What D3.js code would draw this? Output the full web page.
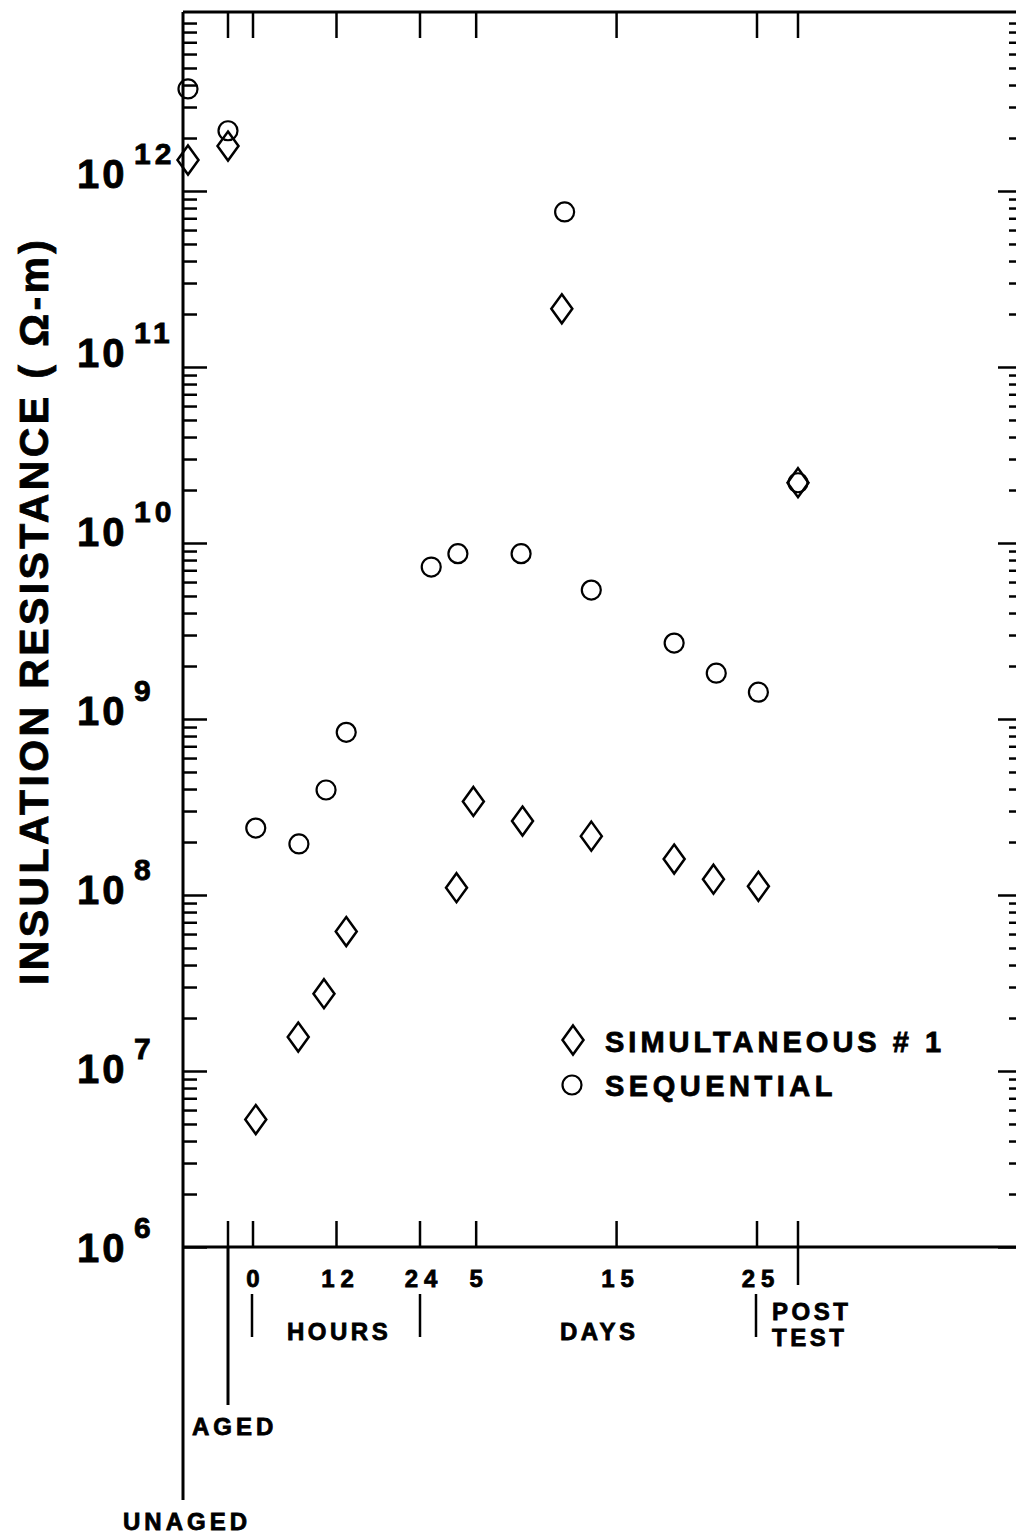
<!DOCTYPE html>
<html>
<head>
<meta charset="utf-8">
<script src="https://cdn.jsdelivr.net/npm/d3@7"></script>
<style>
  body { margin: 0; background: #fff; }
  text { font-family: "Liberation Sans", Arial, sans-serif; font-weight: bold; fill: #000;
         stroke: #000; stroke-width: 0.8px; }
</style>
</head>
<body>
<div id="chart"></div>
<script>
// stages outside the timed test
const stages = ['UNAGED', 'AGED', 'POST TEST'];
const seqStageValues = [3.8e12, 2.2e12, 2.2e10];
const simStageValues = [1.5e12, 1.8e12, 2.2e10];

// first day, in hours
const hourTicks = [0, 12, 24];
const seqHours = [0.4, 6.6, 10.5, 13.4];
const seqHourValues = [2.4e8, 1.95e8, 3.95e8, 8.4e8];
const simHours = [0.4, 6.5, 10.2, 13.4];
const simHourValues = [5.3e6, 1.56e7, 2.75e7, 6.2e7];

// rest of the test, in days
const dayTicks = [5, 15, 25];
const seqDays = [1.8, 3.7, 8.2, 11.3, 13.2, 19.1, 22.1, 25.1];
const seqDayValues = [7.3e9, 8.7e9, 8.7e9, 7.6e11, 5.4e9, 2.7e9, 1.82e9, 1.42e9];
const simDays = [3.6, 4.8, 8.3, 11.1, 13.2, 19.1, 21.9, 25.1];
const simDayValues = [1.1e8, 3.4e8, 2.63e8, 2.14e11, 2.16e8, 1.6e8, 1.23e8, 1.12e8];

const decades = [6, 7, 8, 9, 10, 11, 12];

const width = 1016, height = 1534;
const plotLeft = 183, plotRight = 1018, plotBottom = 1247, plotTop = 12;

const svg = d3.select('#chart').append('svg')
  .attr('width', width)
  .attr('height', height);
svg.append('rect').attr('width', width).attr('height', height).attr('fill', '#fff');

const yScale = d3.scaleLog().domain([1e6, Math.pow(10, 13.017)]).range([plotBottom, plotTop]);
const hourScale = d3.scaleLinear().domain([0, 24]).range([253, 420]);
const dayScale = d3.scaleLinear().domain([1, 25]).range([420, 757]);
const stageScale = d3.scaleOrdinal().domain(stages).range([188, 228, 798]);

const majorVals = decades.map(d => Math.pow(10, d));
const minorVals = [];
decades.forEach(d => { for (let k = 2; k <= 9; k++) minorVals.push(k * Math.pow(10, d)); });

function styleAxis(g) {
  g.select('.domain').remove();
  g.selectAll('.tick line').attr('stroke', '#000').attr('stroke-width', 2.5);
  g.selectAll('.tick text').remove();
}

// left axis
svg.append('g').attr('transform', `translate(${plotLeft},0)`)
  .call(d3.axisRight(yScale).tickValues(minorVals).tickSize(14)).call(styleAxis);
svg.append('g').attr('transform', `translate(${plotLeft},0)`)
  .call(d3.axisRight(yScale).tickValues(majorVals).tickSize(24)).call(styleAxis);
// right axis
svg.append('g').attr('transform', `translate(${plotRight},0)`)
  .call(d3.axisLeft(yScale).tickValues(minorVals).tickSize(9)).call(styleAxis);
svg.append('g').attr('transform', `translate(${plotRight},0)`)
  .call(d3.axisLeft(yScale).tickValues(majorVals).tickSize(20)).call(styleAxis);

// frame
svg.append('line').attr('x1', plotLeft).attr('x2', plotLeft).attr('y1', plotTop).attr('y2', 1500)
  .attr('stroke', '#000').attr('stroke-width', 3);
svg.append('line').attr('x1', plotLeft).attr('x2', plotRight).attr('y1', plotTop).attr('y2', plotTop)
  .attr('stroke', '#000').attr('stroke-width', 3);
svg.append('line').attr('x1', plotLeft).attr('x2', plotRight).attr('y1', plotBottom).attr('y2', plotBottom)
  .attr('stroke', '#000').attr('stroke-width', 3);
svg.append('line').attr('x1', plotRight).attr('x2', plotRight).attr('y1', plotTop).attr('y2', plotBottom)
  .attr('stroke', '#000').attr('stroke-width', 3);

// x ticks, top and bottom
const xTicks = [stageScale('AGED')]
  .concat(hourTicks.map(h => hourScale(h)))
  .concat(dayTicks.map(d => dayScale(d)))
  .concat([stageScale('POST TEST')]);
xTicks.forEach(x => {
  svg.append('line').attr('x1', x).attr('x2', x).attr('y1', plotTop).attr('y2', plotTop + 26)
    .attr('stroke', '#000').attr('stroke-width', 2.5);
  svg.append('line').attr('x1', x).attr('x2', x).attr('y1', plotBottom).attr('y2', plotBottom - 26)
    .attr('stroke', '#000').attr('stroke-width', 2.5);
});
// long drops
svg.append('line').attr('x1', stageScale('AGED')).attr('x2', stageScale('AGED'))
  .attr('y1', plotBottom).attr('y2', 1405).attr('stroke', '#000').attr('stroke-width', 3);
svg.append('line').attr('x1', stageScale('POST TEST')).attr('x2', stageScale('POST TEST'))
  .attr('y1', plotBottom).attr('y2', 1285).attr('stroke', '#000').attr('stroke-width', 2.5);
// section separators under the axis
[hourScale(0) - 1, hourScale(24), dayScale(25) - 1].forEach(x => {
  svg.append('line').attr('x1', x).attr('x2', x).attr('y1', 1294).attr('y2', 1337)
    .attr('stroke', '#000').attr('stroke-width', 2.5);
});

// x tick labels
const tickLabels = hourTicks.map(h => ({x: hourScale(h), t: String(h)}))
  .concat(dayTicks.map(d => ({x: dayScale(d), t: String(d)})));
svg.selectAll('.xlab').data(tickLabels).enter().append('text')
  .attr('class', 'xlab')
  .attr('x', d => d.x + 3 + (d.t.length > 1 ? 1 : 0))
  .attr('y', 1287)
  .attr('text-anchor', 'middle')
  .style('font-size', '24px')
  .style('letter-spacing', '6px')
  .text(d => d.t);

function label(x, y, t, size, ls) {
  svg.append('text').attr('x', x).attr('y', y)
    .style('font-size', size + 'px').style('letter-spacing', ls + 'px').text(t);
}
label(287, 1340, 'HOURS', 24, 3.5);
label(560, 1340, 'DAYS', 24, 3.5);
label(772, 1320, 'POST', 24, 3.5);
label(772, 1346, 'TEST', 24, 3.5);
label(192, 1435, 'AGED', 24, 4);
label(123, 1530, 'UNAGED', 24, 4);

// y labels (printed ones drift a little upward toward the top)
majorVals.forEach((v, i) => {
  const y = yScale(v);
  const t = svg.append('text').attr('x', 77).attr('y', y + 15 - i * 3)
    .style('font-size', '40px').style('letter-spacing', '3px');
  t.append('tspan').text('10');
  t.append('tspan').attr('dy', -24).attr('x', 134).style('font-size', '30px')
    .style('letter-spacing', '4px').text(decades[i]);
});

// y title
svg.append('text')
  .attr('transform', `translate(48,${(240 + 985) / 2}) rotate(-90)`)
  .attr('text-anchor', 'middle')
  .attr('textLength', 745)
  .attr('lengthAdjust', 'spacing')
  .style('font-size', '41px')
  .text('INSULATION RESISTANCE ( \u03A9-m)');

// markers
function diamond(x, y) {
  return `M${x},${y - 14.5}L${x + 10.5},${y}L${x},${y + 14.5}L${x - 10.5},${y}Z`;
}
const simPts = stages.map((s, i) => ({x: stageScale(s), v: simStageValues[i]}))
  .concat(simHours.map((h, i) => ({x: hourScale(h), v: simHourValues[i]})))
  .concat(simDays.map((d, i) => ({x: dayScale(d), v: simDayValues[i]})));
const seqPts = stages.map((s, i) => ({x: stageScale(s), v: seqStageValues[i]}))
  .concat(seqHours.map((h, i) => ({x: hourScale(h), v: seqHourValues[i]})))
  .concat(seqDays.map((d, i) => ({x: dayScale(d), v: seqDayValues[i]})));

svg.selectAll('.sim').data(simPts).enter().append('path')
  .attr('class', 'sim')
  .attr('d', d => diamond(d.x, yScale(d.v)))
  .attr('fill', 'none').attr('stroke', '#000').attr('stroke-width', 2.5);
svg.selectAll('.seq').data(seqPts).enter().append('circle')
  .attr('class', 'seq')
  .attr('cx', d => d.x).attr('cy', d => yScale(d.v)).attr('r', 9.5)
  .attr('fill', 'none').attr('stroke', '#000').attr('stroke-width', 2.2);

// legend
svg.append('path').attr('d', diamond(573, 1040))
  .attr('fill', 'none').attr('stroke', '#000').attr('stroke-width', 2.5);
svg.append('circle').attr('cx', 572).attr('cy', 1085).attr('r', 9.5)
  .attr('fill', 'none').attr('stroke', '#000').attr('stroke-width', 2.2);
label(605, 1052, 'SIMULTANEOUS # 1', 29, 4);
label(605, 1096, 'SEQUENTIAL', 29, 4.5);
</script>
</body>
</html>
